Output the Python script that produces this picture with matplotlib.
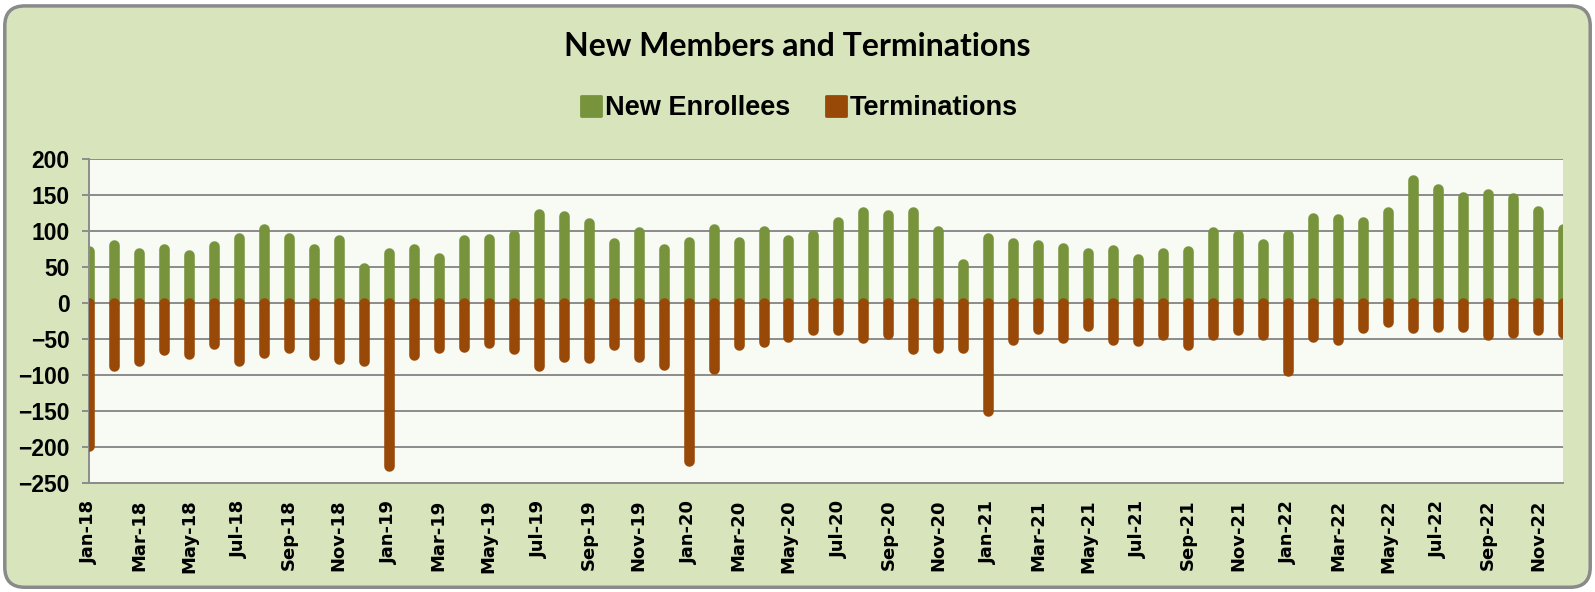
import matplotlib.pyplot as plt
from matplotlib.markers import MarkerStyle
from matplotlib.lines import Line2D
from matplotlib.patches import FancyBboxPatch
import numpy as np
import pandas as pd

# monthly values, Jan-18 .. Dec-22
months = pd.date_range('2018-01-01', '2022-12-01', freq='MS').strftime('%b-%y').tolist()

new_enrollees = [72, 81, 69, 75, 67, 79, 90, 103, 90, 75, 87, 49,
                 70, 75, 63, 88, 89, 95, 123, 121, 111, 84, 98, 75,
                 85, 103, 85, 100, 87, 95, 112, 127, 122, 126, 100, 54,
                 90, 84, 81, 77, 70, 73, 61, 70, 72, 98, 95, 82,
                 95, 118, 117, 112, 127, 171, 159, 147, 152, 146, 128, 103]

terminations = [-198, -88, -81, -65, -71, -57, -81, -70, -62, -72, -78, -81,
                -226, -72, -63, -61, -55, -64, -88, -75, -77, -58, -75, -86,
                -220, -92, -58, -54, -47, -38, -37, -48, -43, -64, -63, -63,
                -150, -51, -36, -49, -32, -52, -53, -45, -58, -44, -37, -44,
                -95, -47, -52, -35, -27, -35, -34, -33, -45, -42, -38, -41]

GREEN = '#77933C'
BROWN = '#984807'
GRID = '#8C8C8C'

fig = plt.figure(figsize=(15.95, 5.92), dpi=100)
fig.patch.set_facecolor('white')

# rounded green panel behind everything
panel = FancyBboxPatch((0.003, 0.008), 0.994, 0.982,
                       boxstyle='round,pad=0,rounding_size=0.0125',
                       mutation_aspect=1595 / 592,
                       transform=fig.transFigure, facecolor='#D8E4BC',
                       edgecolor='#8A8A8A', linewidth=2.5, zorder=-10)
fig.patches.append(panel)

ax = fig.add_axes([0.0558, 0.1841, 0.9241, 0.5473])
ax.set_facecolor('#F8FAF4')

x = np.arange(len(months))
ax.vlines(x, 0, new_enrollees, colors=GREEN, linewidth=7.6, capstyle='round', zorder=2)
ax.vlines(x, 0, terminations, colors=BROWN, linewidth=7.6, capstyle='round', zorder=3)

ax.set_xlim(0, len(months) - 1)
ax.set_ylim(-250, 200)
ax.set_yticks(range(-250, 201, 50))
ax.grid(axis='y', color=GRID, linewidth=1.4)
ax.set_axisbelow(True)

for side in ['top', 'right']:
    ax.spines[side].set_visible(False)
for side in ['left', 'bottom']:
    ax.spines[side].set_color(GRID)
    ax.spines[side].set_linewidth(1.4)

ax.tick_params(axis='y', length=5, width=1.4, color=GRID, pad=9, labelsize=16.5)
for lab in ax.get_yticklabels():
    lab.set_fontweight('bold')
    lab.set_family('Liberation Sans')

ax.set_xticks(x[::2])
ax.set_xticklabels(months[::2], rotation=90, fontsize=13, fontweight='bold',
                   family='DejaVu Sans')
ax.tick_params(axis='x', length=0, pad=12)

# small tick marks hanging off the zero line
zero_axis = ax.secondary_xaxis(0, transform=ax.transData)
zero_axis.set_xticks(x[::2])
zero_axis.tick_params(length=6, width=1.5, color=GRID, labelbottom=False)
zero_axis.spines['bottom'].set_visible(False)

fig.text(0.5, 1 - 47 / 592, 'New Members and Terminations', ha='center', va='center',
         fontsize=23, fontweight='bold', family='Lato')

handles = [Line2D([], [], ls='none', marker=MarkerStyle('s', joinstyle='round'),
                  markersize=15, markeredgewidth=2, color=c) for c in (GREEN, BROWN)]
fig.legend(handles, ['New Enrollees', 'Terminations'], loc='center',
           bbox_to_anchor=(0.5, 1 - 108 / 592), ncol=2, frameon=False,
           prop={'family': 'Liberation Sans', 'weight': 'bold', 'size': 19.5},
           handletextpad=0.0, columnspacing=1.2, handlelength=1.0)

fig.savefig('out.png', dpi=100)
